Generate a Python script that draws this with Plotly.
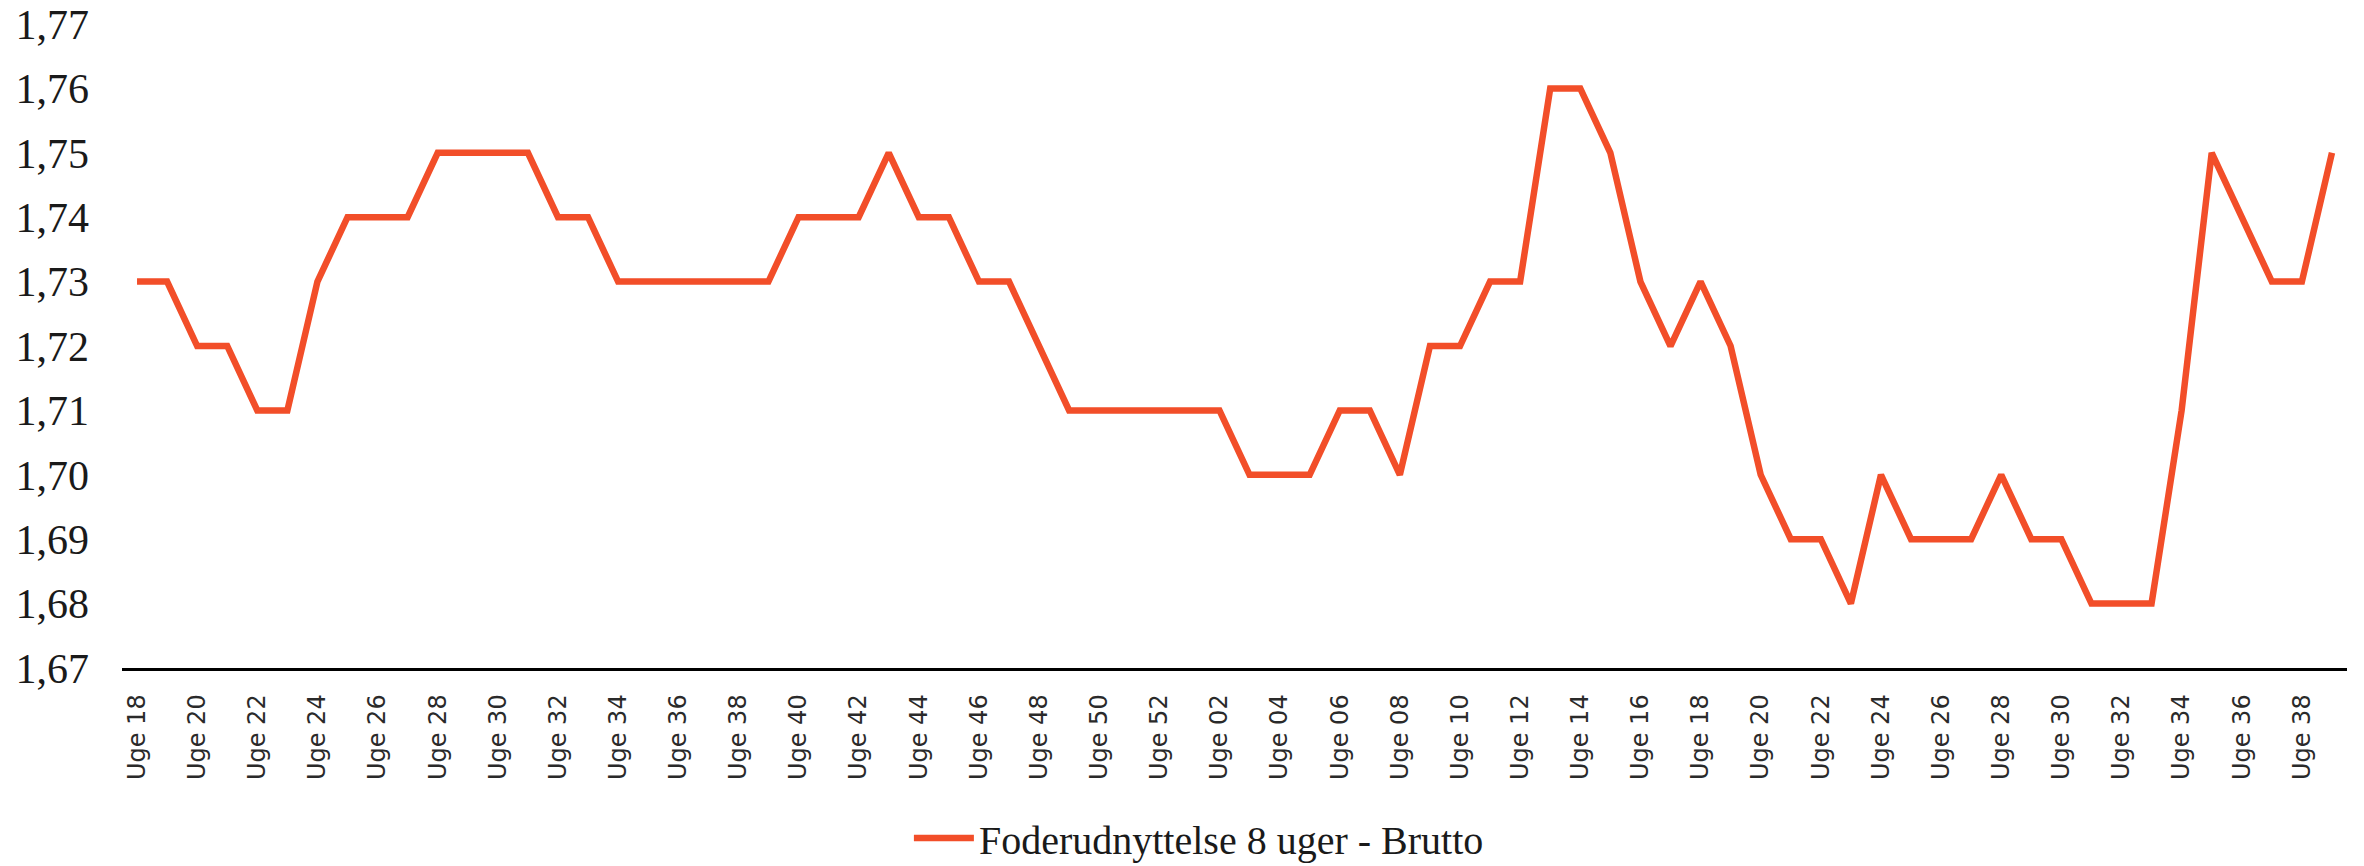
import plotly.graph_objects as go

weeks = [f"Uge {w:02d}" for w in range(18, 53)] + [f"Uge {w:02d}" for w in range(1, 40)]
values = [
    1.73, 1.73, 1.72, 1.72, 1.71, 1.71, 1.73, 1.74, 1.74, 1.74,   # 18-27
    1.75, 1.75, 1.75, 1.75, 1.74, 1.74, 1.73, 1.73, 1.73, 1.73,   # 28-37
    1.73, 1.73, 1.74, 1.74, 1.74, 1.75, 1.74, 1.74, 1.73, 1.73,   # 38-47
    1.72, 1.71, 1.71, 1.71, 1.71,                                 # 48-52
    1.71, 1.71, 1.70, 1.70, 1.70, 1.71, 1.71, 1.70, 1.72, 1.72,   # 01-10
    1.73, 1.73, 1.76, 1.76, 1.75, 1.73, 1.72, 1.73, 1.72, 1.70,   # 11-20
    1.69, 1.69, 1.68, 1.70, 1.69, 1.69, 1.69, 1.70, 1.69, 1.69,   # 21-30
    1.68, 1.68, 1.68, 1.71, 1.75, 1.74, 1.73, 1.73, 1.75,         # 31-39
]
series_name = "Foderudnyttelse 8 uger - Brutto"
y_ticks = [1.67, 1.68, 1.69, 1.70, 1.71, 1.72, 1.73, 1.74, 1.75, 1.76, 1.77]

idx = list(range(len(weeks)))
color = "#F24E29"

fig = go.Figure()
fig.add_trace(go.Scatter(
    x=idx, y=values, mode="lines", name=series_name,
    line=dict(color=color, width=6.5),
))

fig.update_layout(
    width=2364, height=866,
    margin=dict(l=122, r=17, t=24, b=198, autoexpand=False),
    paper_bgcolor="white", plot_bgcolor="white",
    separators=", ",
    showlegend=True,
    legend=dict(orientation="h", x=0.484, xanchor="center", y=-0.264, yanchor="middle",
                font=dict(family="Liberation Serif, serif", size=40, color="#1a1a1a"),
                itemwidth=60),
)
fig.update_xaxes(
    range=[-0.5, len(weeks) - 0.5], automargin=False,
    tickmode="array", tickvals=idx[::2], ticktext=weeks[::2],
    tickangle=-90, showgrid=False, zeroline=False,
    showline=True, linecolor="black", linewidth=2.5,
    ticks="", ticklabelstandoff=14,
    tickfont=dict(family="DejaVu Sans, sans-serif", size=24, color="#2a2a2a"),
)
fig.update_yaxes(
    range=[1.67, 1.77], tickmode="array", tickvals=y_ticks, automargin=False,
    tickformat=".2f", showgrid=False, zeroline=False, showline=False,
    ticks="", ticklabelstandoff=32,
    tickfont=dict(family="Liberation Serif, serif", size=42, color="#1a1a1a"),
)

fig.write_html("out.html", config={"displayModeBar": False},
               post_script="document.body.style.margin='0';")
